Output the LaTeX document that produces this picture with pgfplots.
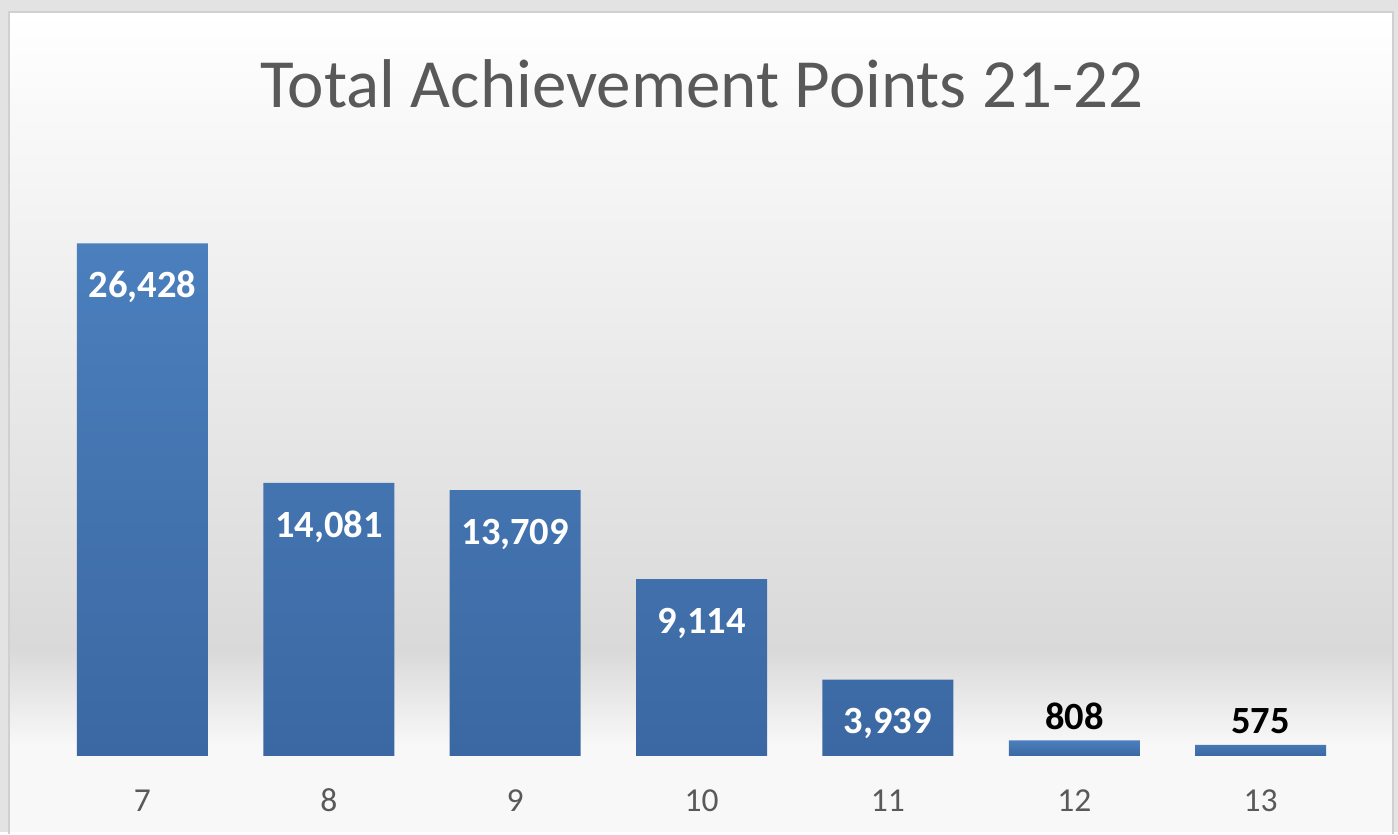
\documentclass[border=0pt]{standalone}
\usepackage{pgfplots}
\pgfplotsset{compat=1.18}
\usepackage{fontspec}
\setmainfont{Carlito}
\definecolor{outergrey}{HTML}{E3E3E3}
\definecolor{panelgrey}{HTML}{D9D9D9}
\definecolor{panellow}{HTML}{F8F8F8}
\definecolor{panelborder}{HTML}{D0D0D0}
\definecolor{bartop}{HTML}{4B7FBD}
\definecolor{barbot}{HTML}{3B68A2}
\definecolor{txtgrey}{HTML}{595959}
\begin{document}
\begin{tikzpicture}[x=1pt,y=1pt]
\fill[outergrey] (0,0) rectangle (1398,832);
\shade[top color=white,bottom color=panelgrey] (9,182) rectangle (1393,820);
\shade[top color=panelgrey,bottom color=panellow] (9,87) rectangle (1393,182);
\fill[panellow] (9,0) rectangle (1393,87);
\draw[panelborder,line width=2pt] (9,-2) -- (9,820) -- (1393,820) -- (1393,-2);
\node[anchor=base,text=txtgrey,font=\fontsize{69}{80}\selectfont] at (702,724) {Total Achievement Points 21-22};
\begin{axis}[
  at={(49.3pt,76pt)}, anchor=south west,
  width=1304.7pt, height=582pt, scale only axis,
  xmin=-0.5, xmax=6.5, ymin=0, ymax=30000,
  axis line style={draw=none},
  major tick length=0pt,
  ytick=\empty,
  xtick={0,1,2,3,4,5,6},
  xticklabels={7,8,9,10,11,12,13},
  xticklabel style={anchor=base, yshift=-56pt, text=txtgrey, font=\fontsize{33.5}{40}\selectfont},
  clip=false,
  ybar, bar width=131pt,
  /pgf/number format/assume math mode=true,
  /pgf/number format/1000 sep={,},
  /pgf/number format/fixed,
  /pgf/number format/precision=0,
]
\addplot[bar shift=0pt, draw=none, top color=bartop, bottom color=barbot,
  nodes near coords,
  every node near coord/.append style={anchor=center, yshift=-44pt, text=white, font=\bfseries\fontsize{38.5}{46}\selectfont}]
  coordinates {(0,26428) (1,14081) (2,13709) (3,9114) (4,3939)};
\addplot[bar shift=0pt, draw=none, top color=bartop, bottom color=barbot,
  nodes near coords,
  every node near coord/.append style={anchor=center, yshift=24pt, text=black, font=\bfseries\fontsize{38.5}{46}\selectfont}]
  coordinates {(5,808) (6,575)};
\end{axis}
\end{tikzpicture}
\end{document}
